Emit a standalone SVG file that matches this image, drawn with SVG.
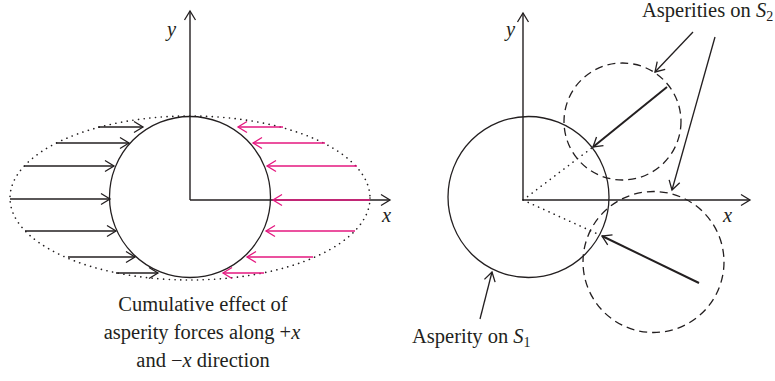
<svg xmlns="http://www.w3.org/2000/svg" width="775" height="381" viewBox="0 0 775 381">
<defs>
<style>
.ln{stroke:#231f20;stroke-width:1.3;fill:none}
.pk{stroke:#e4177f;stroke-width:1.3;fill:none}
.ax{stroke:#231f20;stroke-width:1.4;fill:none}
.thk{stroke:#231f20;stroke-width:2;fill:none}
.dot{stroke:#231f20;stroke-width:1.6;fill:none;stroke-dasharray:0.1 5.6;stroke-linecap:round}
.dash{stroke:#231f20;stroke-width:1.3;fill:none;stroke-dasharray:8 5}
text{font-family:"Liberation Serif","Times New Roman",serif;font-size:20.5px;fill:#231f20}
.it{font-style:italic}
</style>
<marker id="ah" markerUnits="userSpaceOnUse" markerWidth="20" markerHeight="20" refX="0" refY="0" viewBox="-10 -10 20 20" orient="auto" overflow="visible">
<path d="M-9,-5.5 L0,0 L-9,5.5" fill="none" stroke="#231f20" stroke-width="1.3"/>
</marker>
<marker id="ahp" markerUnits="userSpaceOnUse" markerWidth="20" markerHeight="20" refX="0" refY="0" viewBox="-10 -10 20 20" orient="auto" overflow="visible">
<path d="M-9,-5.5 L0,0 L-9,5.5" fill="none" stroke="#e4177f" stroke-width="1.3"/>
</marker>
</defs>

<!-- LEFT DIAGRAM -->
<g id="left-envelope">
<ellipse class="dot" cx="190" cy="198" rx="180" ry="82"/>
</g>
<g id="left-asperity">
<circle class="ln" cx="190" cy="197" r="80.5"/>
</g>
<g id="left-axes">
<line class="ax" x1="190" y1="200" x2="190" y2="11" marker-end="url(#ah)"/>
<line class="ax" x1="190" y1="200" x2="390" y2="200" marker-end="url(#ah)"/>
<text class="it" x="167" y="36">y</text>
<text class="it" x="382" y="222">x</text>
</g>
<g id="connectors-left">
<line class="ln" x1="98" y1="127" x2="143" y2="127" marker-end="url(#ah)"/>
<line class="ln" x1="56" y1="143" x2="129" y2="143" marker-end="url(#ah)"/>
<line class="ln" x1="24" y1="166" x2="114" y2="166" marker-end="url(#ah)"/>
<line class="ln" x1="10" y1="199" x2="110" y2="199" marker-end="url(#ah)"/>
<line class="ln" x1="25" y1="231" x2="116" y2="231" marker-end="url(#ah)"/>
<line class="ln" x1="68" y1="257" x2="135" y2="257" marker-end="url(#ah)"/>
<line class="ln" x1="116" y1="273" x2="158" y2="273" marker-end="url(#ah)"/>
<line class="pk" x1="283" y1="127" x2="238" y2="127" marker-end="url(#ahp)"/>
<line class="pk" x1="325" y1="143" x2="253" y2="143" marker-end="url(#ahp)"/>
<line class="pk" x1="357" y1="166" x2="267" y2="166" marker-end="url(#ahp)"/>
<line class="pk" x1="370" y1="200" x2="273" y2="200" marker-end="url(#ahp)"/>
<line class="pk" x1="355" y1="231" x2="266" y2="231" marker-end="url(#ahp)"/>
<line class="pk" x1="313" y1="257" x2="247" y2="257" marker-end="url(#ahp)"/>
<line class="pk" x1="264" y1="273" x2="223" y2="273" marker-end="url(#ahp)"/>
</g>
<g id="left-caption">
<text x="203" y="311" text-anchor="middle">Cumulative effect of</text>
<text x="202" y="339" text-anchor="middle">asperity forces along +<tspan class="it">x</tspan></text>
<text x="203" y="367" text-anchor="middle">and −<tspan class="it">x</tspan> direction</text>
</g>

<!-- RIGHT DIAGRAM -->
<g id="right-axes">
<line class="ax" x1="523" y1="200" x2="523" y2="13" marker-end="url(#ah)"/>
<line class="ax" x1="523" y1="200" x2="750" y2="200" marker-end="url(#ah)"/>
<text class="it" x="506" y="36">y</text>
<text class="it" x="723" y="222">x</text>
</g>
<g id="asperity-s1">
<circle class="ln" cx="528.5" cy="197" r="80.5"/>
</g>
<g id="asperity-s2-upper">
<circle class="dash" cx="622.5" cy="121.5" r="58.5"/>
</g>
<g id="asperity-s2-lower">
<circle class="dash" cx="653.5" cy="262" r="70.5"/>
</g>
<g id="connectors-right">
<line class="dot" x1="523" y1="200" x2="593" y2="147"/>
<line class="dot" x1="523" y1="200" x2="600" y2="235"/>
<line class="thk" x1="667" y1="87" x2="593" y2="147" marker-end="url(#ah)"/>
<line class="thk" x1="699" y1="283" x2="602" y2="236" marker-end="url(#ah)"/>
<line class="ln" x1="693" y1="32" x2="655" y2="72" marker-end="url(#ah)"/>
<line class="ln" x1="715" y1="37" x2="672" y2="190" marker-end="url(#ah)"/>
<line class="ln" x1="480" y1="319" x2="492" y2="272" marker-end="url(#ah)"/>
</g>
<g id="label-s2">
<text x="642" y="17">Asperities on <tspan class="it">S</tspan><tspan font-size="14" dy="4">2</tspan></text>
</g>
<g id="label-s1">
<text x="412" y="343">Asperity on <tspan class="it">S</tspan><tspan font-size="14" dy="4">1</tspan></text>
</g>
</svg>
